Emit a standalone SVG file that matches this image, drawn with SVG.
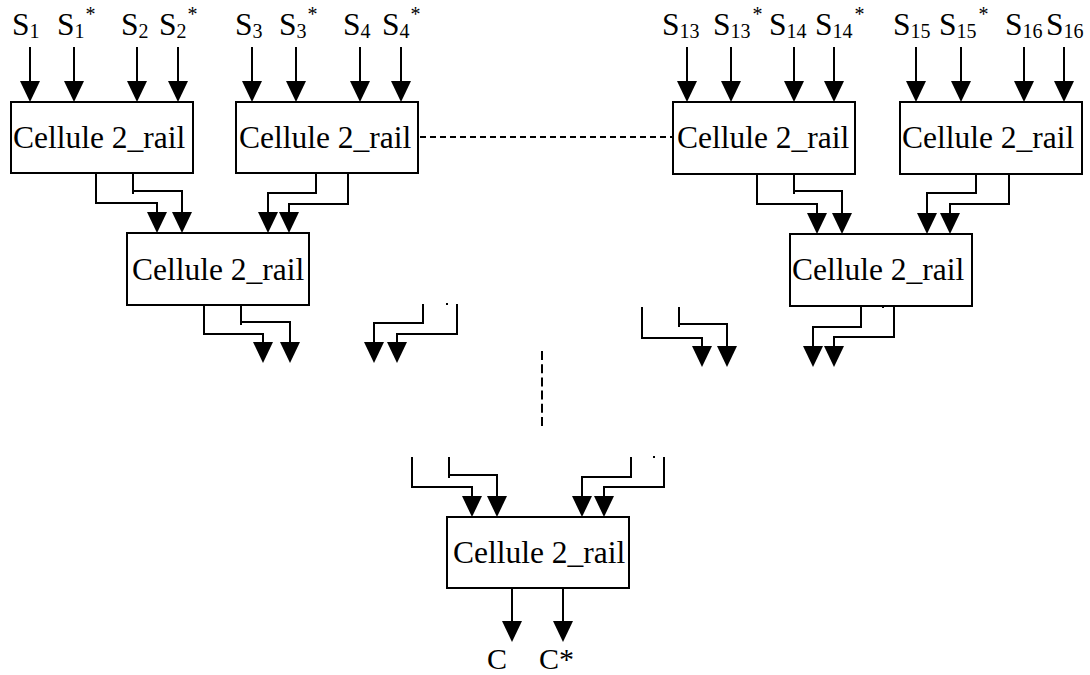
<svg xmlns="http://www.w3.org/2000/svg" xmlns:xlink="http://www.w3.org/1999/xlink" width="1090" height="675" viewBox="0 0 1090 675">
<style>
.box{fill:#fff;stroke:#000;stroke-width:2}
.lbl{font-family:"Liberation Serif","Times New Roman",serif;font-size:31.5px;fill:#000}
.sub{font-size:20px}
.w{fill:none;stroke:#000;stroke-width:2}
.dash1{fill:none;stroke:#000;stroke-width:2;stroke-dasharray:6 4}
.dash2{fill:none;stroke:#000;stroke-width:2;stroke-dasharray:9 4.2}
.ah{fill:#000}
</style>
<defs>
<path id="ah" class="ah" d="M-10,-21 H10 L0,0 Z"/>
</defs>
<rect width="1090" height="675" fill="#fff"/>

<g id="inputs">
<text class="lbl" x="12" y="35">S<tspan class="sub" dy="3">1</tspan></text>
<text class="lbl" x="57" y="35">S<tspan class="sub" dy="3">1</tspan><tspan class="sub" dx="1" dy="-17">*</tspan></text>
<text class="lbl" x="121" y="35">S<tspan class="sub" dy="3">2</tspan></text>
<text class="lbl" x="159" y="35">S<tspan class="sub" dy="3">2</tspan><tspan class="sub" dx="1" dy="-17">*</tspan></text>
<text class="lbl" x="235" y="35">S<tspan class="sub" dy="3">3</tspan></text>
<text class="lbl" x="279" y="35">S<tspan class="sub" dy="3">3</tspan><tspan class="sub" dx="1" dy="-17">*</tspan></text>
<text class="lbl" x="343" y="35">S<tspan class="sub" dy="3">4</tspan></text>
<text class="lbl" x="382" y="35">S<tspan class="sub" dy="3">4</tspan><tspan class="sub" dx="1" dy="-17">*</tspan></text>
<text class="lbl" x="662" y="35">S<tspan class="sub" dy="3">13</tspan></text>
<text class="lbl" x="713" y="35">S<tspan class="sub" dy="3">13</tspan><tspan class="sub" dx="2" dy="-17">*</tspan></text>
<text class="lbl" x="769" y="35">S<tspan class="sub" dy="3">14</tspan></text>
<text class="lbl" x="815" y="35">S<tspan class="sub" dy="3">14</tspan><tspan class="sub" dx="2" dy="-17">*</tspan></text>
<text class="lbl" x="893" y="35">S<tspan class="sub" dy="3">15</tspan></text>
<text class="lbl" x="939" y="35">S<tspan class="sub" dy="3">15</tspan><tspan class="sub" dx="2" dy="-17">*</tspan></text>
<text class="lbl" x="1005" y="35">S<tspan class="sub" dy="3">16</tspan></text>
<text class="lbl" x="1046" y="35">S<tspan class="sub" dy="3">16</tspan></text>
</g>

<g id="cell1"><rect class="box" x="11" y="102" width="182" height="71"/><text class="lbl" x="13" y="148">Cellule 2_rail</text></g>
<g id="cell2"><rect class="box" x="236" y="102" width="182" height="71"/><text class="lbl" x="239" y="148">Cellule 2_rail</text></g>
<g id="cell3"><rect class="box" x="673" y="102" width="182" height="72"/><text class="lbl" x="677" y="148">Cellule 2_rail</text></g>
<g id="cell4"><rect class="box" x="900" y="102" width="182" height="72"/><text class="lbl" x="902" y="148">Cellule 2_rail</text></g>
<g id="cell5"><rect class="box" x="127" y="233" width="182" height="72"/><text class="lbl" x="132" y="280">Cellule 2_rail</text></g>
<g id="cell6"><rect class="box" x="790" y="234" width="182" height="72"/><text class="lbl" x="792" y="280">Cellule 2_rail</text></g>
<g id="cell7"><rect class="box" x="447" y="517" width="182" height="71"/><text class="lbl" x="453" y="563">Cellule 2_rail</text></g>

<g id="connectors">
<!-- input arrows -->
<path class="w" d="M30,47V82 M74,47V82 M137,47V82 M178,47V82 M252,47V82 M296,47V82 M360,47V82 M401,47V82 M687,47V82 M731,47V82 M794,47V82 M834,47V82 M916,47V82 M961,47V82 M1024,47V82 M1064,47V82"/>
<use xlink:href="#ah" x="30" y="102"/><use xlink:href="#ah" x="74" y="102"/><use xlink:href="#ah" x="137" y="102"/><use xlink:href="#ah" x="178" y="102"/>
<use xlink:href="#ah" x="252" y="102"/><use xlink:href="#ah" x="296" y="102"/><use xlink:href="#ah" x="360" y="102"/><use xlink:href="#ah" x="401" y="102"/>
<use xlink:href="#ah" x="687" y="102"/><use xlink:href="#ah" x="731" y="102"/><use xlink:href="#ah" x="794" y="102"/><use xlink:href="#ah" x="834" y="102"/>
<use xlink:href="#ah" x="916" y="102"/><use xlink:href="#ah" x="961" y="102"/><use xlink:href="#ah" x="1024" y="102"/><use xlink:href="#ah" x="1064" y="102"/>

<!-- horizontal ellipsis -->
<path class="dash1" d="M420,137H672"/>

<!-- level 1 to level 2 -->
<path class="w" d="M96,173V203H157V213 M133,173V194 M133,191H182V213 M316,173V193H268V213 M348,173V204H289V213"/>
<use xlink:href="#ah" x="157" y="233"/><use xlink:href="#ah" x="182" y="233"/><use xlink:href="#ah" x="268" y="233"/><use xlink:href="#ah" x="289" y="233"/>
<path class="w" d="M757,174V204H817V214 M794,174V194 M794,191H842V214 M976,174V193H927V214 M1009,174V204H950V214"/>
<use xlink:href="#ah" x="817" y="234"/><use xlink:href="#ah" x="842" y="234"/><use xlink:href="#ah" x="927" y="234"/><use xlink:href="#ah" x="950" y="234"/>

<!-- level 2 outputs -->
<path class="w" d="M204,305V334H263V343 M241,305V325 M241,322H290V343 M423,304V323H374V343 M457,304V334H397V343"/>
<use xlink:href="#ah" x="263" y="363"/><use xlink:href="#ah" x="290" y="363"/><use xlink:href="#ah" x="374" y="363"/><use xlink:href="#ah" x="397" y="363"/>
<rect x="446" y="303" width="2" height="2" fill="#000"/>
<path class="w" d="M642,307V338H702V347 M679,307V327 M679,324H727V347 M861,306V327H813V347 M894,306V337H834V347"/>
<use xlink:href="#ah" x="702" y="367"/><use xlink:href="#ah" x="727" y="367"/><use xlink:href="#ah" x="813" y="367"/><use xlink:href="#ah" x="834" y="367"/>
<rect x="882" y="306" width="2" height="2" fill="#000"/>

<!-- vertical ellipsis -->
<path class="dash2" d="M542,351V426"/>

<!-- last level inputs -->
<path class="w" d="M412,457V487H472V497 M449,457V478 M449,475H497V497 M631,457V477H582V497 M664,457V487H604V497"/>
<use xlink:href="#ah" x="472" y="517"/><use xlink:href="#ah" x="497" y="517"/><use xlink:href="#ah" x="582" y="517"/><use xlink:href="#ah" x="604" y="517"/>
<rect x="653" y="456" width="2" height="2" fill="#000"/>

<!-- outputs -->
<path class="w" d="M512,588V622 M563,588V622"/>
<use xlink:href="#ah" x="512" y="642"/><use xlink:href="#ah" x="563" y="642"/>
</g>

<g id="outputs">
<text class="lbl" x="487" y="669" style="font-size:30px">C</text>
<text class="lbl" x="539" y="669" style="font-size:30px">C*</text>
</g>
</svg>
